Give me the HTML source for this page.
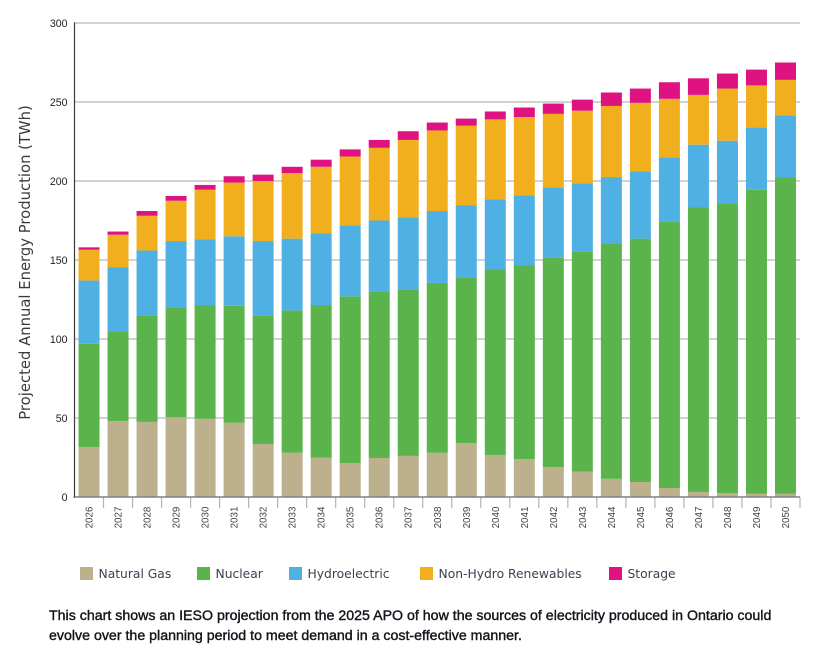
<!DOCTYPE html>
<html lang="en">
<head>
<meta charset="utf-8">
<title>Projected Annual Energy Production</title>
<style>
html,body{margin:0;padding:0;background:#fff;}
#wrap{position:relative;width:831px;height:658px;overflow:hidden;}
svg{position:absolute;left:0;top:0;}
text{font-family:"DejaVu Sans","Liberation Sans",sans-serif;}
#caption{position:absolute;left:49px;top:606px;width:775px;margin:0;font:400 14.2px/20px "Liberation Sans",sans-serif;color:#14141c;-webkit-text-stroke:0.4px #14141c;white-space:nowrap;}
</style>
</head>
<body>
<div id="wrap">
<svg id="chart" width="831" height="658" viewBox="0 0 831 658"></svg>
<p id="caption">This chart shows an IESO projection from the 2025 APO of how the sources of electricity produced in Ontario could<br>evolve over the planning period to meet demand in a cost-effective manner.</p>
</div>
<script>
const years = [2026,2027,2028,2029,2030,2031,2032,2033,2034,2035,2036,2037,2038,2039,2040,2041,2042,2043,2044,2045,2046,2047,2048,2049,2050];
const naturalGas = [31.6,48,47.5,50.6,49.5,47,33.5,28,25,21.5,24.7,26,28,34,26.6,24,19,16,11.5,9.5,5.7,3.2,2.5,2,2];
const nuclear = [65.4,57,67.5,69.4,72,74,81.5,90,96.5,105.5,105.3,105.5,107.5,105,117.4,122.5,132.5,139.5,149,154,168.8,180.3,183.5,192.5,200.5];
const hydroelectric = [40,40.5,41,42,41.5,44,47,45.5,45.5,45,45,45.5,45.5,45.5,44.5,44.5,44.5,43,42,42.5,40.5,39.5,39.5,39.5,39];
const renewables = [19.5,20.5,22,25.5,31.5,34,38,41.5,42,43.5,46,49,51,50.5,50.5,49.5,46.5,46,45,43.5,37,31.5,33,26.5,22.5];
const storage = [1.5,2,3,3,3,4,4,4,4.5,4.5,5,5.5,5,4.5,5,6,6.5,7,8.5,9,10.5,10.5,9.5,10,11];
const yTicks = [0,50,100,150,200,250,300];
const seriesNames = ["Natural Gas","Nuclear","Hydroelectric","Non-Hydro Renewables","Storage"];

const seriesValues = [naturalGas,nuclear,hydroelectric,renewables,storage];
const seriesColors = ["#bdb08c","#5ab44b","#4fb0e3","#f1af1e","#de1280"];
const seriesKeys = ["natural-gas","nuclear","hydroelectric","non-hydro-renewables","storage"];
const legendX = [80,197,289,420,609];

const svg = document.getElementById('chart');
const NS = 'http://www.w3.org/2000/svg';
const plotLeft = 74.5, plotRight = 800, plotTop = 23, plotBottom = 497;
const yMax = 300;
function y(v){ return plotBottom - v/yMax*(plotBottom-plotTop); }
const band = (plotRight-plotLeft)/years.length;
function x(i){ return plotLeft + band*i; }
const barWidth = 21;

function make(tag, attrs, text){
  const e = document.createElementNS(NS, tag);
  for (const k in attrs) e.setAttribute(k, attrs[k]);
  if (text !== undefined) e.textContent = text;
  svg.appendChild(e);
  return e;
}

yTicks.forEach(t => {
  if (t > 0) {
    const g = make('line',{x1:plotLeft,x2:plotRight,y1:y(t),y2:y(t),stroke:'#c4c4c4','stroke-width':1.6});
    
    
  }
  const l = make('text',{x:67.5,y:y(t)+3.8,'text-anchor':'end','font-size':10.6,fill:'#222',style:'font-family:"Liberation Sans",sans-serif'},t);
  
  
});

years.forEach((yr,i) => {
  const tick = make('line',{x1:x(i+1),x2:x(i+1),y1:plotBottom,y2:508,stroke:'#b4b4b4','stroke-width':1.2});
  
  
  let base = 0;
  seriesValues.forEach((vals,s) => {
    const top = base + vals[i];
    const r = make('rect',{x:x(i)+(band-barWidth)/2,y:y(top),width:barWidth,height:y(base)-y(top),fill:seriesColors[s]});
    
    
    base = top;
  });
  const cx = x(i)+band/2, cy = 517.5;
  const lb = make('text',{x:cx+3.5,y:cy,'text-anchor':'middle','font-size':9.8,fill:'#444',style:'font-family:"Liberation Sans",sans-serif',transform:'rotate(-90 '+(cx+3.5)+' '+cy+')'},yr);
  
  
});

const xAxis = make('line',{x1:plotLeft-1,x2:plotRight,y1:plotBottom,y2:plotBottom,stroke:'#808080','stroke-width':1.6});


const yAxis = make('line',{x1:plotLeft,x2:plotLeft,y1:plotTop-0.5,y2:plotBottom+0.5,stroke:'#3a3a3a','stroke-width':1.2});



const yTitle = make('text',{x:30,y:262.5,'text-anchor':'middle','font-size':14.8,fill:'#3a3a3a',transform:'rotate(-90 30 262.5)'},'Projected Annual Energy Production (TWh)');



seriesNames.forEach((n,s) => {
  const sw = make('rect',{x:legendX[s],y:567,width:13,height:13,fill:seriesColors[s]});
  
  
  const t = make('text',{x:legendX[s]+18.5,y:578,'font-size':12.3,fill:'#3c4150'},n);
  
  
});
</script>
</body>
</html>
